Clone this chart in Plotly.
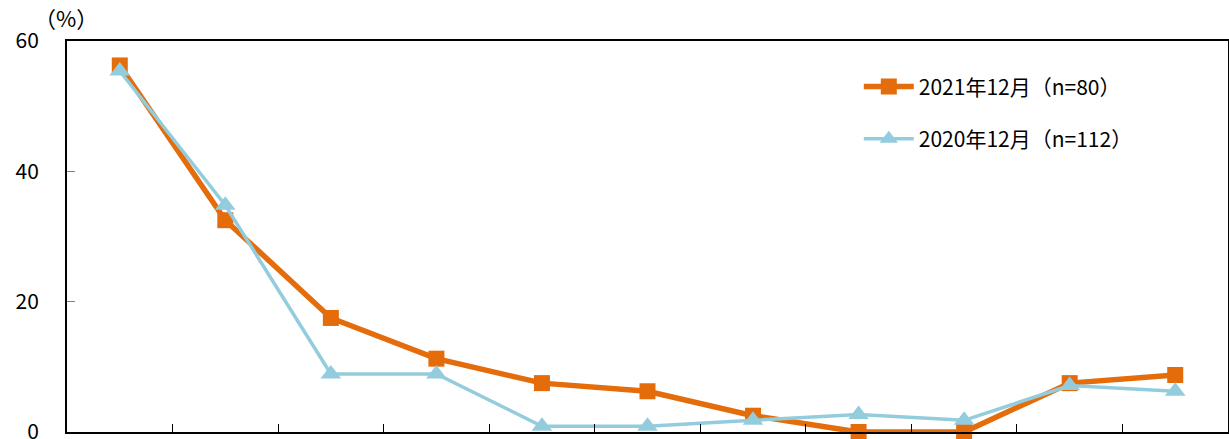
import plotly.graph_objects as go

categories = [str(i) for i in range(1, 12)]
series_2021 = [56.25, 32.5, 17.5, 11.25, 7.5, 6.25, 2.5, 0.0, 0.0, 7.5, 8.75]
series_2020 = [55.4, 34.8, 8.9, 8.9, 0.89, 0.89, 1.79, 2.68, 1.79, 7.14, 6.25]
name_2021 = "2021年12月（n=80）"
name_2020 = "2020年12月（n=112）"
y_ticks = [0, 20, 40, 60]

FONT = "Noto Sans CJK JP, Noto Sans, sans-serif"

fig = go.Figure()
fig.add_trace(go.Scatter(
    x=categories, y=series_2021, name=name_2021, mode="lines+markers",
    line=dict(color="#E46C0A", width=5.5),
    marker=dict(symbol="square", size=16, color="#E46C0A"),
    legendgroup="a", cliponaxis=False,
))
fig.add_trace(go.Scatter(
    x=categories, y=series_2020, name=name_2020, mode="lines+markers",
    line=dict(color="#93CDDD", width=3.5),
    marker=dict(symbol="triangle-up", size=18, color="#93CDDD"),
    legendgroup="b", cliponaxis=False,
))

fig.update_layout(
    width=1229, height=439,
    margin=dict(l=67, r=1, t=41, b=7, autoexpand=False),
    paper_bgcolor="white", plot_bgcolor="white",
    font=dict(family=FONT, size=20, color="black"),
    showlegend=True,
    legend=dict(
        x=0.682, y=0.935, xanchor="left", yanchor="top",
        bgcolor="rgba(0,0,0,0)", tracegroupgap=22,
        font=dict(size=21), itemwidth=50,
    ),
    xaxis=dict(
        type="category", showticklabels=False, tickson="boundaries",
        ticks="inside", ticklen=8, tickcolor="black", tickwidth=1,
        showline=True, linecolor="black", linewidth=2, mirror=True,
        showgrid=False, zeroline=False, range=[-0.5, 10.5], automargin=False,
    ),
    yaxis=dict(
        range=[0, 60], tickvals=y_ticks, ticks="inside", ticklen=8,
        tickcolor="gray", showline=True, linecolor="black", linewidth=2,
        mirror=True, showgrid=False, zeroline=False,
        ticklabelstandoff=22, tickfont=dict(size=21),
        ticklabeloverflow="allow", automargin=False,
    ),
    annotations=[dict(
        text="（%）", xref="paper", yref="paper", x=-0.03, y=1.0,
        xanchor="left", yanchor="bottom", showarrow=False,
        font=dict(size=22), yshift=6,
    )],
)

fig.write_html("out.html")
